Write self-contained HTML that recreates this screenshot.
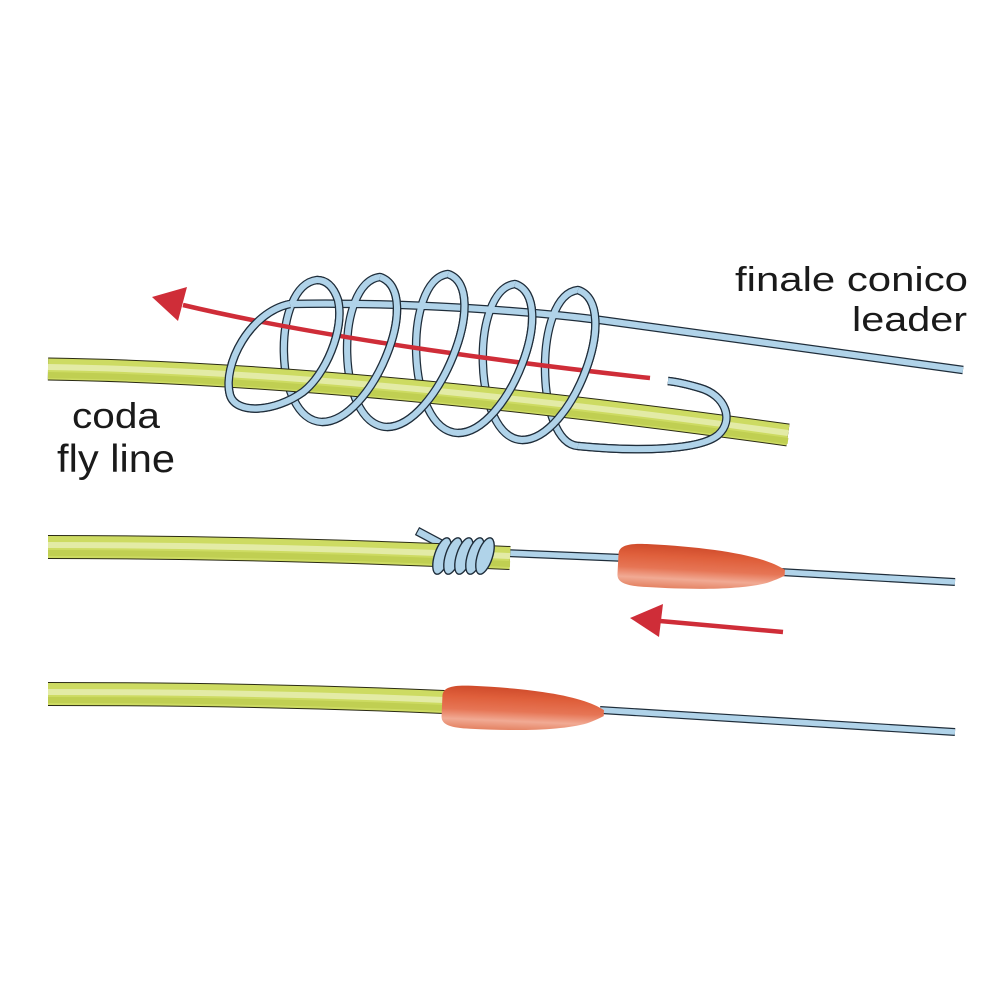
<!DOCTYPE html>
<html>
<head>
<meta charset="utf-8">
<style>
  html,body{margin:0;padding:0;background:#ffffff;}
  svg{display:block;}
  text{font-family:"Liberation Sans", Arial, sans-serif; fill:#1a1a1a;}
</style>
</head>
<body>
<svg width="1000" height="1000" viewBox="0 0 1000 1000" xmlns="http://www.w3.org/2000/svg">
  <defs>
    <linearGradient id="bead" x1="0" y1="0" x2="0" y2="1">
      <stop offset="0" stop-color="#cf4b2b"/>
      <stop offset="0.25" stop-color="#df5f3b"/>
      <stop offset="0.55" stop-color="#e67555"/>
      <stop offset="0.78" stop-color="#f1aa94"/>
      <stop offset="1" stop-color="#e48262"/>
    </linearGradient>
  </defs>
  <rect width="1000" height="1000" fill="#ffffff"/>

  <!-- ============ TOP FIGURE ============ -->
  <g fill="none" stroke-linecap="butt" stroke-linejoin="round">
    <path d="M963,370 L600,320 C520,310 400,302 290,304 C250,312 222,365 230,395 C236,415 275,412 303,392 C325,375 345,330 338,300 C333,285 325,280 317,280 C272,285 272,420 322,422 C372,422 425,292 380,277 C335,282 335,425 387,427 C437,427 493,289 448,274 C403,279 405,431 458,433 C508,433 560,299 515,284 C470,289 472,438 522,440 C572,440 623,305 578,290 C533,295 535,443 578,446 C640,452 700,450 718,435 C735,420 725,395 700,388 C690,385 678,382 668,381" stroke="#1f2d3a" stroke-width="8.5"/>
    <path d="M963,370 L600,320 C520,310 400,302 290,304 C250,312 222,365 230,395 C236,415 275,412 303,392 C325,375 345,330 338,300 C333,285 325,280 317,280 C272,285 272,420 322,422 C372,422 425,292 380,277 C335,282 335,425 387,427 C437,427 493,289 448,274 C403,279 405,431 458,433 C508,433 560,299 515,284 C470,289 472,438 522,440 C572,440 623,305 578,290 C533,295 535,443 578,446 C640,452 700,450 718,435 C735,420 725,395 700,388 C690,385 678,382 668,381" stroke="#b0d3e9" stroke-width="6"/>

    <path d="M650,378 C540,366 330,340 183,305" stroke="#cf2d38" stroke-width="4.5"/>

    <path d="M48,369 C250,372 500,395 788,435" stroke="#2a2a14" stroke-width="23"/>
    <path d="M48,369 C250,372 500,395 788,435" stroke="#cddb62" stroke-width="21"/>
    <path d="M48,369 C250,372 500,395 788,435" stroke="#c0cf52" stroke-width="6" transform="translate(0,6)"/>
    <path d="M48,369 C250,372 500,395 788,435" stroke="#e3eba6" stroke-width="6" transform="translate(0,-2)"/>

    <path d="M290,304 C250,312 222,365 230,395 C236,415 275,412 303,392 C325,375 345,330 338,300 C333,285 325,280 317,280" stroke="#1f2d3a" stroke-width="8.5"/>
    <path d="M290,304 C250,312 222,365 230,395 C236,415 275,412 303,392 C325,375 345,330 338,300 C333,285 325,280 317,280" stroke="#b0d3e9" stroke-width="6"/>
    <path d="M322,422 C372,422 425,292 380,277" stroke="#1f2d3a" stroke-width="8.5"/>
    <path d="M322,422 C372,422 425,292 380,277" stroke="#b0d3e9" stroke-width="6"/>
    <path d="M387,427 C437,427 493,289 448,274" stroke="#1f2d3a" stroke-width="8.5"/>
    <path d="M387,427 C437,427 493,289 448,274" stroke="#b0d3e9" stroke-width="6"/>
    <path d="M458,433 C508,433 560,299 515,284" stroke="#1f2d3a" stroke-width="8.5"/>
    <path d="M458,433 C508,433 560,299 515,284" stroke="#b0d3e9" stroke-width="6"/>
    <path d="M522,440 C572,440 623,305 578,290" stroke="#1f2d3a" stroke-width="8.5"/>
    <path d="M522,440 C572,440 623,305 578,290" stroke="#b0d3e9" stroke-width="6"/>
    <path d="M578,446 C640,452 700,450 718,435 C735,420 725,395 700,388 C690,385 678,382 668,381" stroke="#1f2d3a" stroke-width="8.5"/>
    <path d="M578,446 C640,452 700,450 718,435 C735,420 725,395 700,388 C690,385 678,382 668,381" stroke="#b0d3e9" stroke-width="6"/>
  </g>
  <polygon points="152,297 187,287 178,321" fill="#cf2d38"/>

  <!-- ============ MIDDLE FIGURE ============ -->
  <g fill="none" stroke-linecap="butt">
    <path d="M505,553 L625,558" stroke="#1f2d3a" stroke-width="8"/>
    <path d="M505,553 L625,558" stroke="#b0d3e9" stroke-width="5.6"/>
    <path d="M780,572 L955,582" stroke="#1f2d3a" stroke-width="8"/>
    <path d="M780,572 L955,582" stroke="#b0d3e9" stroke-width="5.6"/>
    <path d="M417,531 L447,547" stroke="#1f2d3a" stroke-width="9"/>
    <path d="M418,531.5 L447,547" stroke="#b0d3e9" stroke-width="6.5"/>
    <path d="M48,547 C200,547 350,551 510,558" stroke="#2a2a14" stroke-width="24"/>
    <path d="M48,547 C200,547 350,551 510,558" stroke="#cddb62" stroke-width="22"/>
    <path d="M48,547 C200,547 350,551 510,558" stroke="#c0cf52" stroke-width="6" transform="translate(0,6)"/>
    <path d="M48,547 C200,547 350,551 510,558" stroke="#e3eba6" stroke-width="6" transform="translate(0,-2)"/>
  </g>
  <g fill="#b0d3e9" stroke="#1f2d3a" stroke-width="1.4">
    <ellipse cx="442" cy="556" rx="7.5" ry="19" transform="rotate(18 442 556)"/>
    <ellipse cx="453" cy="556" rx="7.5" ry="19" transform="rotate(18 453 556)"/>
    <ellipse cx="464" cy="556" rx="7.5" ry="19" transform="rotate(18 464 556)"/>
    <ellipse cx="475" cy="556" rx="7.5" ry="19" transform="rotate(18 475 556)"/>
    <ellipse cx="485" cy="556" rx="7.5" ry="19" transform="rotate(18 485 556)"/>
  </g>
  <path transform="translate(618,564) rotate(3)" d="M0,-10 C0,-19 10,-21.5 30,-21.5 C80,-21.5 125,-18 150,-10 C160,-7 165,-4 167,-3 L167,3 C165,4 160,7 150,11 C125,19 80,22 30,21.5 C10,21.5 0,19 0,10 Z" fill="url(#bead)"/>
  <path d="M783,632 L660,621" stroke="#cf2d38" stroke-width="4.5" fill="none"/>
  <polygon points="630,618 663,604 659,637" fill="#cf2d38"/>

  <!-- ============ BOTTOM FIGURE ============ -->
  <g fill="none" stroke-linecap="butt">
    <path d="M600,710 L955,732" stroke="#1f2d3a" stroke-width="8"/>
    <path d="M600,710 L955,732" stroke="#b0d3e9" stroke-width="5.6"/>
    <path d="M48,694 C200,694 330,697 444,702" stroke="#2a2a14" stroke-width="24"/>
    <path d="M48,694 C200,694 330,697 444,702" stroke="#cddb62" stroke-width="22"/>
    <path d="M48,694 C200,694 330,697 444,702" stroke="#c0cf52" stroke-width="6" transform="translate(0,6)"/>
    <path d="M48,694 C200,694 330,697 444,702" stroke="#e3eba6" stroke-width="6" transform="translate(0,-2)"/>
  </g>
  <path transform="translate(442,706) rotate(2.5) scale(0.97,1)" d="M0,-10 C0,-19 10,-21.5 30,-21.5 C80,-21.5 125,-18 150,-10 C160,-7 165,-4 167,-3 L167,3 C165,4 160,7 150,11 C125,19 80,22 30,21.5 C10,21.5 0,19 0,10 Z" fill="url(#bead)"/>

  <!-- ============ LABELS ============ -->
  <text x="735" y="291" font-size="34" textLength="233" lengthAdjust="spacingAndGlyphs">finale conico</text>
  <text x="852" y="331" font-size="34" textLength="115" lengthAdjust="spacingAndGlyphs">leader</text>
  <text x="72" y="428" font-size="36" textLength="88" lengthAdjust="spacingAndGlyphs">coda</text>
  <text x="57" y="472" font-size="39" textLength="118" lengthAdjust="spacingAndGlyphs">fly line</text>
</svg>
</body>
</html>
